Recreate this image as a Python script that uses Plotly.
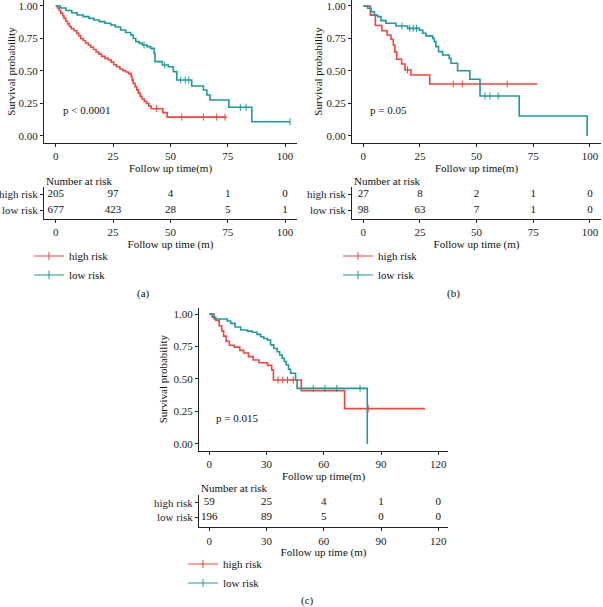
import plotly.graph_objects as go

W, H = 603, 607
RED = "#F0463D"
TEAL = "#1E9A9A"
INK = "#222222"
FONT = "Liberation Serif"

# ---------------- data ----------------
# Panel (a)
a_high_t = [0, 0.8, 1.5, 2.2, 3.0, 3.6, 4.4, 5.2, 6.0, 6.8, 8.0, 9.2, 10.0, 10.9, 12.0, 13.0,
            14.2, 15.3, 16.5, 17.6, 18.8, 20.0, 21.5, 23.0, 24.2, 25.3, 26.5, 28.0, 29.3, 30.5,
            31.8, 32.9, 33.3, 33.8, 34.6, 35.3, 36.0, 36.8, 37.6, 38.6, 39.6, 40.6, 41.6, 46.7,
            48.6, 74.6]
a_high_s = [1.0, 0.985, 0.965, 0.945, 0.925, 0.905, 0.882, 0.862, 0.842, 0.825, 0.81, 0.79,
            0.772, 0.75, 0.735, 0.715, 0.70, 0.682, 0.665, 0.646, 0.63, 0.612, 0.597, 0.585,
            0.568, 0.548, 0.532, 0.515, 0.503, 0.492, 0.48, 0.46, 0.43, 0.405, 0.38, 0.355,
            0.33, 0.305, 0.285, 0.265, 0.25, 0.23, 0.21, 0.18, 0.145, 0.145]
a_high_cens_t = [44.0, 55.0, 64.4, 70.2, 73.8]
a_high_cens_s = [0.21, 0.145, 0.145, 0.145, 0.145]
a_low_t = [0, 2.0, 4.5, 7.0, 9.4, 12.0, 14.5, 16.7, 19.0, 21.5, 24.0, 26.0, 28.3, 30.5, 32.7,
           33.8, 34.9, 36.5, 37.8, 39.8, 41.4, 42.9, 43.3, 46.5, 49.1, 51.3, 52.8, 59.3, 64.4,
           65.9, 67.3, 75.5, 85.5, 102.2]
a_low_s = [1.0, 0.985, 0.965, 0.948, 0.931, 0.918, 0.905, 0.892, 0.88, 0.867, 0.854, 0.838,
           0.815, 0.796, 0.777, 0.75, 0.726, 0.712, 0.70, 0.687, 0.674, 0.636, 0.572, 0.546,
           0.533, 0.495, 0.431, 0.385, 0.354, 0.315, 0.277, 0.221, 0.11, 0.11]
a_low_cens_t = [38.5, 47.5, 54.5, 56.5, 58.0, 80.5, 83.0, 102.2]
a_low_cens_s = [0.70, 0.546, 0.431, 0.431, 0.431, 0.221, 0.221, 0.11]
a_risk_times = [0, 25, 50, 75, 100]
a_risk_high = [205, 97, 4, 1, 0]
a_risk_low = [677, 423, 28, 5, 1]

# Panel (b)
b_high_t = [0, 3.1, 5.3, 8.2, 10.5, 12.2, 13.2, 13.9, 14.7, 16.9, 18.4, 21.0, 29.3, 76.8]
b_high_s = [1.0, 0.93, 0.85, 0.81, 0.777, 0.744, 0.70, 0.645, 0.59, 0.554, 0.508, 0.469,
            0.40, 0.40]
b_high_cens_t = [19.5, 39.7, 43.7, 63.5]
b_high_cens_s = [0.508, 0.40, 0.40, 0.40]
b_low_t = [0, 1.9, 3.4, 4.9, 6.3, 7.8, 10.0, 14.4, 19.5, 24.7, 26.2, 27.6, 30.6, 31.3, 32.0,
           33.2, 35.0, 37.9, 38.7, 41.6, 47.0, 51.5, 68.8, 98.8]
b_low_s = [1.0, 0.982, 0.956, 0.93, 0.918, 0.887, 0.867, 0.846, 0.828, 0.815, 0.79, 0.77,
           0.751, 0.726, 0.687, 0.649, 0.623, 0.597, 0.559, 0.502, 0.436, 0.308, 0.154, 0.0]
b_low_cens_t = [17.0, 20.5, 22.0, 23.5, 53.7, 55.9, 59.5]
b_low_cens_s = [0.846, 0.828, 0.828, 0.828, 0.308, 0.308, 0.308]
b_risk_times = [0, 25, 50, 75, 100]
b_risk_high = [27, 8, 2, 1, 0]
b_risk_low = [98, 63, 7, 1, 0]

# Panel (c)
c_high_t = [0, 1.5, 3.4, 5.2, 6.5, 7.5, 8.8, 10.5, 13.0, 16.0, 18.0, 20.5, 23.0, 26.0, 30.5,
            32.7, 33.6, 48.2, 70.9, 113.0]
c_high_s = [1.0, 0.975, 0.95, 0.91, 0.87, 0.83, 0.79, 0.76, 0.745, 0.72, 0.70, 0.672, 0.646,
            0.625, 0.605, 0.57, 0.492, 0.41, 0.272, 0.272]
c_high_cens_t = [36.0, 38.5, 41.0, 44.0, 83.3]
c_high_cens_s = [0.492, 0.492, 0.492, 0.492, 0.272]
c_low_t = [0, 2.5, 9.4, 11.2, 13.5, 16.4, 20.0, 22.5, 25.0, 26.9, 28.5, 30.4, 32.1, 33.8,
           35.6, 36.9, 38.2, 39.3, 40.3, 41.5, 42.6, 45.2, 46.0, 82.8]
c_low_s = [1.0, 0.962, 0.946, 0.928, 0.90, 0.877, 0.868, 0.859, 0.843, 0.825, 0.812, 0.80,
           0.762, 0.735, 0.71, 0.685, 0.659, 0.635, 0.608, 0.575, 0.544, 0.492, 0.428, 0.0]
c_low_cens_t = [54.5, 60.6, 66.8, 79.0]
c_low_cens_s = [0.428, 0.428, 0.428, 0.428]
c_risk_times = [0, 30, 60, 90, 120]
c_risk_high = [59, 25, 4, 1, 0]
c_risk_low = [196, 89, 5, 0, 0]

group_labels = ["high risk", "low risk"]
surv_ticks = [0, 0.25, 0.5, 0.75, 1.0]
surv_ticktext = ["0.00", "0.25", "0.50", "0.75", "1.00"]


# ---------------- layout helpers ----------------
def fx(p):
    return p / W


def fy(p):
    return 1 - p / H


panels = [
    dict(key="a", n="", tn="4", leg="legend",
         hi=(a_high_t, a_high_s, a_high_cens_t, a_high_cens_s),
         lo=(a_low_t, a_low_s, a_low_cens_t, a_low_cens_s),
         rt=a_risk_times, rh=a_risk_high, rl=a_risk_low, p="p < 0.0001",
         xdom=(44, 297), xr=(-5.1, 105.2), ydom=(0, 143), yr=(-0.054, 1.046),
         tdom=(187, 219), tr=(0.4375, 2.4375), nar=181, legx=29, legy=241.5,
         cap="(a)", capx=143, capy=294, ystand=0),
    dict(key="b", n="2", tn="5", leg="legend2",
         hi=(b_high_t, b_high_s, b_high_cens_t, b_high_cens_s),
         lo=(b_low_t, b_low_s, b_low_cens_t, b_low_cens_s),
         rt=b_risk_times, rh=b_risk_high, rl=b_risk_low, p="p = 0.05",
         xdom=(352, 601), xr=(-5.0, 104.9), ydom=(0, 143), yr=(-0.054, 1.046),
         tdom=(187, 219), tr=(0.4375, 2.4375), nar=181, legx=338, legy=241.5,
         cap="(b)", capx=453, capy=294, ystand=1),
    dict(key="c", n="3", tn="6", leg="legend3",
         hi=(c_high_t, c_high_s, c_high_cens_t, c_high_cens_s),
         lo=(c_low_t, c_low_s, c_low_cens_t, c_low_cens_s),
         rt=c_risk_times, rh=c_risk_high, rl=c_risk_low, p="p = 0.015",
         xdom=(199, 448), xr=(-5.4, 125.1), ydom=(307.5, 450.7), yr=(-0.052, 1.05),
         tdom=(495, 527.3), tr=(0.315, 2.53), nar=488.3, legx=183, legy=549.5,
         cap="(c)", capx=307, capy=600.5, ystand=3),
]

fig = go.Figure()
axis_common = dict(showline=True, linecolor=INK, linewidth=1, ticks="outside", ticklen=3,
                   tickcolor=INK, tickwidth=1, showgrid=False, zeroline=False,
                   ticklabeloverflow="allow",
                   tickfont=dict(family=FONT, size=11, color=INK),
                   title_font=dict(family=FONT, size=11, color="#111"), fixedrange=True)
layout = dict(width=W, height=H, margin=dict(l=0, r=0, t=0, b=0),
              paper_bgcolor="white", plot_bgcolor="white",
              font=dict(family=FONT, size=11, color="#111"), annotations=[])

for P in panels:
    xa, ya = "x" + P["n"], "y" + P["n"]
    xt, yt = "x" + P["tn"], "y" + P["tn"]
    for (t, s, ct, cs), col, name in ((P["hi"], RED, group_labels[0]),
                                      (P["lo"], TEAL, group_labels[1])):
        fig.add_trace(go.Scatter(x=t, y=s, mode="lines", line=dict(color=col, width=1.6, shape="hv"),
                                 xaxis=xa, yaxis=ya, showlegend=False, hoverinfo="skip"))
        fig.add_trace(go.Scatter(x=ct, y=cs, mode="markers",
                                 marker=dict(symbol="line-ns", size=5,
                                             line=dict(color=col, width=1)),
                                 xaxis=xa, yaxis=ya, showlegend=False, hoverinfo="skip"))
        # legend entry
        fig.add_trace(go.Scatter(x=[None], y=[None], mode="lines+markers", name=name,
                                 line=dict(color=col, width=1.2),
                                 marker=dict(symbol="line-ns", size=6,
                                             line=dict(color=col, width=1)),
                                 xaxis=xa, yaxis=ya, legend=P["leg"], showlegend=True))
    # risk table
    for row, vals in ((2, P["rh"]), (1, P["rl"])):
        fig.add_trace(go.Scatter(x=P["rt"], y=[row] * len(vals), mode="text",
                                 text=[str(v) for v in vals],
                                 textfont=dict(family=FONT, size=11, color="#111"),
                                 xaxis=xt, yaxis=yt, showlegend=False, hoverinfo="skip"))

    xk = "xaxis" + P["n"]
    yk = "yaxis" + P["n"]
    xtk = "xaxis" + P["tn"]
    ytk = "yaxis" + P["tn"]
    xdom = [fx(P["xdom"][0]), fx(P["xdom"][1])]
    layout[xk] = dict(axis_common, domain=xdom, range=list(P["xr"]), anchor=ya,
                      tickvals=P["rt"], title=dict(text="Follow up time(m)", standoff=0))
    layout[yk] = dict(axis_common, domain=[fy(P["ydom"][1]), fy(P["ydom"][0])],
                      range=list(P["yr"]), anchor=xa, tickvals=surv_ticks,
                      ticktext=surv_ticktext,
                      title=dict(text="Survival probability", standoff=P["ystand"]))
    layout[xtk] = dict(axis_common, domain=xdom, range=list(P["xr"]), anchor=yt,
                       tickvals=P["rt"], title=dict(text="Follow up time (m)", standoff=0))
    layout[ytk] = dict(axis_common, domain=[fy(P["tdom"][1]), fy(P["tdom"][0])],
                       range=list(P["tr"]), anchor=xt, tickvals=[2, 1],
                       ticktext=group_labels)
    layout[P["leg"]] = dict(x=fx(P["legx"]), y=fy(P["legy"]), xanchor="left", yanchor="top",
                            bgcolor="rgba(0,0,0,0)", font=dict(family=FONT, size=11, color="#111"),
                            tracegroupgap=0)
    layout["annotations"] += [
        dict(x=2.2, y=0.2, xref=xa, yref=ya, text=P["p"], showarrow=False,
             xanchor="left", yanchor="middle", font=dict(family=FONT, size=11, color="#111")),
        dict(x=fx(P["xdom"][0]), y=fy(P["nar"]), xref="paper", yref="paper",
             text="Number at risk", showarrow=False, xanchor="left", yanchor="middle",
             font=dict(family=FONT, size=11, color="#111")),
        dict(x=fx(P["capx"]), y=fy(P["capy"]), xref="paper", yref="paper", text=P["cap"],
             showarrow=False, xanchor="center", yanchor="middle",
             font=dict(family=FONT, size=11, color="#111")),
    ]

fig.update_layout(**layout)
fig.write_html("out.html", config={"displayModeBar": False},
               post_script="document.body.style.margin='0px';document.body.style.overflow='hidden';")
